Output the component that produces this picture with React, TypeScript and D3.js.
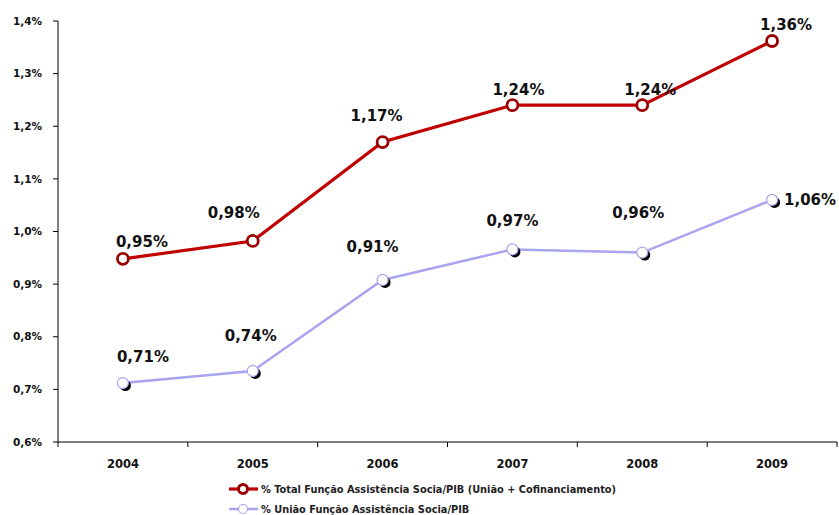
import React from "react";
import * as d3 from "d3";

const years = ["2004", "2005", "2006", "2007", "2008", "2009"];
const totalValues = [0.948, 0.982, 1.17, 1.24, 1.24, 1.362];
const uniaoValues = [0.712, 0.735, 0.908, 0.966, 0.96, 1.06];
const totalLabels = ["0,95%", "0,98%", "1,17%", "1,24%", "1,24%", "1,36%"];
const uniaoLabels = ["0,71%", "0,74%", "0,91%", "0,97%", "0,96%", "1,06%"];
const yTicks = [0.6, 0.7, 0.8, 0.9, 1.0, 1.1, 1.2, 1.3, 1.4];
const seriesNames = [
  "% Total Função Assistência Socia/PIB (União + Cofinanciamento)",
  "% União Função Assistência Socia/PIB",
];

// label nudges (dx, dy relative to point) — layout only
const totalLabelOffsets: [number, number][] = [
  [19, -12], [-19, -23], [-6, -21], [6, -10], [8, -10], [14, -11],
];
const uniaoLabelOffsets: [number, number][] = [
  [20, -21], [-2, -30], [-10, -28], [0, -23], [-4, -35], [38, 5],
];

const W = 839;
const H = 515;
const left = 58;
const right = 837;
const top = 21;
const bottom = 442;

const RED = "#c00000";
const RED_DARK = "#9a0000";
const BLUE = "#a9a4f0";
const FONT = "'DejaVu Sans', Verdana, sans-serif";

export default function App() {
  const x = d3.scaleBand<string>().domain(years).range([left, right]).padding(0);
  const y = d3.scaleLinear().domain([0.6, 1.4]).range([bottom, top]);
  const cx = (yr: string) => (x(yr) as number) + x.bandwidth() / 2;
  const line = d3
    .line<number>()
    .x((_, i) => cx(years[i]))
    .y((d) => y(d));
  const fmt = (v: number) => v.toFixed(1).replace(".", ",") + "%";
  const boundaries = years.map((yr) => x(yr) as number).concat([right]);

  return (
    <svg
      width={W}
      height={H}
      style={{ position: "absolute", left: 0, top: 0, background: "#fff" }}
      fontFamily={FONT}
    >
      {/* axes */}
      <line x1={left} x2={left} y1={top} y2={bottom} stroke="#000" strokeWidth={1} />
      <line x1={left} x2={right} y1={bottom} y2={bottom} stroke="#000" strokeWidth={1} />
      {yTicks.map((t) => (
        <g key={t}>
          <line x1={left - 5} x2={left} y1={y(t)} y2={y(t)} stroke="#000" />
          <text
            x={42}
            y={y(t)}
            dy="0.35em"
            textAnchor="end"
            fontSize={10.5}
            fontWeight="bold"
            fill="#111"
          >
            {fmt(t)}
          </text>
        </g>
      ))}
      {boundaries.map((b, i) => (
        <line key={i} x1={b} x2={b} y1={bottom} y2={bottom + 5} stroke="#000" />
      ))}
      {years.map((yr) => (
        <text
          key={yr}
          x={cx(yr)}
          y={468}
          textAnchor="middle"
          fontSize={11.5}
          fontWeight="bold"
          fill="#111"
        >
          {yr}
        </text>
      ))}

      {/* uniao series */}
      <path d={line(uniaoValues) || ""} fill="none" stroke={BLUE} strokeWidth={2.5} />
      {uniaoValues.map((v, i) => (
        <g key={i}>
          <circle cx={cx(years[i]) + 2.5} cy={y(v) + 2.5} r={5.5} fill="#000" />
          <circle cx={cx(years[i])} cy={y(v)} r={5.5} fill="#fff" stroke={BLUE} strokeWidth={1.2} />
        </g>
      ))}

      {/* total series */}
      <path d={line(totalValues) || ""} fill="none" stroke={RED} strokeWidth={3.2} />
      {totalValues.map((v, i) => (
        <circle
          key={i}
          cx={cx(years[i])}
          cy={y(v)}
          r={5.5}
          fill="#fff"
          stroke={RED_DARK}
          strokeWidth={2.8}
        />
      ))}

      {/* data labels */}
      {totalValues.map((v, i) => (
        <text
          key={"tl" + i}
          x={cx(years[i]) + totalLabelOffsets[i][0]}
          y={y(v) + totalLabelOffsets[i][1]}
          textAnchor="middle"
          fontSize={15}
          fontWeight="bold"
          fill="#111"
        >
          {totalLabels[i]}
        </text>
      ))}
      {uniaoValues.map((v, i) => (
        <text
          key={"ul" + i}
          x={cx(years[i]) + uniaoLabelOffsets[i][0]}
          y={y(v) + uniaoLabelOffsets[i][1]}
          textAnchor="middle"
          fontSize={15}
          fontWeight="bold"
          fill="#111"
        >
          {uniaoLabels[i]}
        </text>
      ))}

      {/* legend */}
      <g>
        <line x1={229} x2={258} y1={489} y2={489} stroke={RED} strokeWidth={3.2} />
        <circle cx={243} cy={489} r={4.5} fill="#fff" stroke={RED_DARK} strokeWidth={3} />
        <text x={261} y={489} dy="0.35em" fontSize={10.9} fontWeight="bold" fill="#222"
          fontFamily="'DejaVu Sans Condensed', 'DejaVu Sans', sans-serif">
          {seriesNames[0]}
        </text>
        <line x1={229} x2={258} y1={509} y2={509} stroke={BLUE} strokeWidth={2.5} />
        <circle cx={243} cy={509} r={4.5} fill="#fff" stroke={BLUE} strokeWidth={1.2} />
        <text x={261} y={509} dy="0.35em" fontSize={10.9} fontWeight="bold" fill="#222"
          fontFamily="'DejaVu Sans Condensed', 'DejaVu Sans', sans-serif">
          {seriesNames[1]}
        </text>
      </g>
    </svg>
  );
}
